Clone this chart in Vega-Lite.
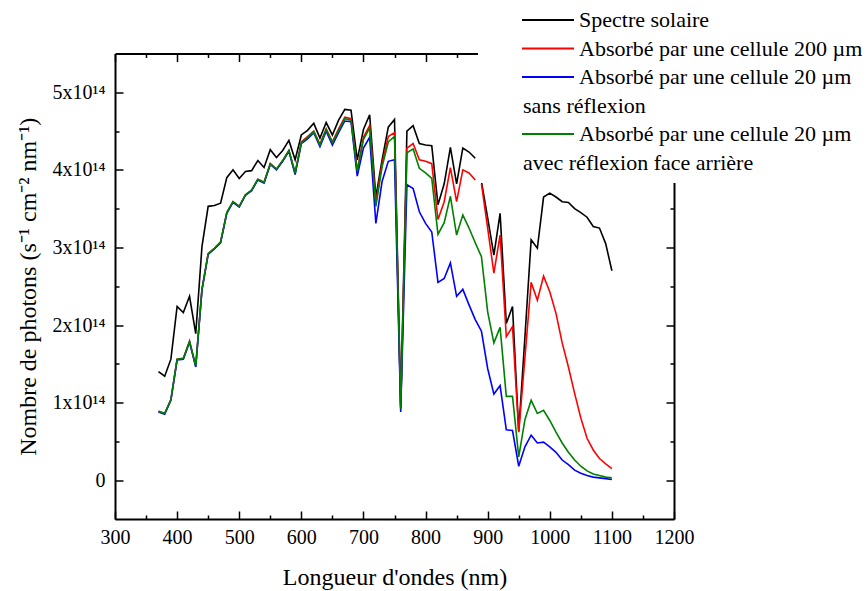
{
  "$schema": "https://vega.github.io/schema/vega-lite/v6.json",
  "autosize": {"type": "none"},
  "padding": {"left": 115, "top": 53.5, "right": 194, "bottom": 72},
  "width": 559,
  "height": 465.5,
  "config": {
    "view": {"stroke": null},
    "axis": {"grid": false, "tickColor": "black", "domainColor": "black", "tickWidth": 1.5, "domainWidth": 2, "labelFont": "Liberation Serif", "labelColor": "black", "titleFont": "Liberation Serif", "titleColor": "black", "titleFontWeight": "normal"}
  },
  "data": {
    "values": [
      {"wl": 370, "sol": 1.40e14, "a200": 0.89e14, "a20": 0.88e14, "a20r": 0.89e14},
      {"wl": 380, "sol": 1.34e14, "a200": 0.86e14, "a20": 0.85e14, "a20r": 0.86e14},
      {"wl": 390, "sol": 1.56e14, "a200": 1.04e14, "a20": 1.03e14, "a20r": 1.04e14},
      {"wl": 400, "sol": 2.24e14, "a200": 1.56e14, "a20": 1.55e14, "a20r": 1.56e14},
      {"wl": 410, "sol": 2.16e14, "a200": 1.57e14, "a20": 1.56e14, "a20r": 1.57e14},
      {"wl": 420, "sol": 2.37e14, "a200": 1.79e14, "a20": 1.78e14, "a20r": 1.79e14},
      {"wl": 430, "sol": 1.89e14, "a200": 1.47e14, "a20": 1.46e14, "a20r": 1.47e14},
      {"wl": 440, "sol": 3.01e14, "a200": 2.46e14, "a20": 2.45e14, "a20r": 2.46e14},
      {"wl": 450, "sol": 3.53e14, "a200": 2.92e14, "a20": 2.91e14, "a20r": 2.92e14},
      {"wl": 460, "sol": 3.54e14, "a200": 2.99e14, "a20": 2.98e14, "a20r": 2.99e14},
      {"wl": 470, "sol": 3.57e14, "a200": 3.07e14, "a20": 3.06e14, "a20r": 3.07e14},
      {"wl": 480, "sol": 3.90e14, "a200": 3.45e14, "a20": 3.44e14, "a20r": 3.45e14},
      {"wl": 490, "sol": 4.00e14, "a200": 3.59e14, "a20": 3.58e14, "a20r": 3.59e14},
      {"wl": 500, "sol": 3.89e14, "a200": 3.53e14, "a20": 3.52e14, "a20r": 3.53e14},
      {"wl": 510, "sol": 3.98e14, "a200": 3.68e14, "a20": 3.67e14, "a20r": 3.68e14},
      {"wl": 520, "sol": 3.99e14, "a200": 3.74e14, "a20": 3.73e14, "a20r": 3.74e14},
      {"wl": 530, "sol": 4.12e14, "a200": 3.88e14, "a20": 3.87e14, "a20r": 3.88e14},
      {"wl": 540, "sol": 4.03e14, "a200": 3.84e14, "a20": 3.83e14, "a20r": 3.84e14},
      {"wl": 550, "sol": 4.26e14, "a200": 4.08e14, "a20": 4.07e14, "a20r": 4.08e14},
      {"wl": 560, "sol": 4.16e14, "a200": 4.01e14, "a20": 4.00e14, "a20r": 4.01e14},
      {"wl": 570, "sol": 4.25e14, "a200": 4.12e14, "a20": 4.11e14, "a20r": 4.12e14},
      {"wl": 580, "sol": 4.38e14, "a200": 4.25e14, "a20": 4.24e14, "a20r": 4.25e14},
      {"wl": 590, "sol": 4.13e14, "a200": 3.96e14, "a20": 3.94e14, "a20r": 3.96e14},
      {"wl": 600, "sol": 4.45e14, "a200": 4.36e14, "a20": 4.34e14, "a20r": 4.35e14},
      {"wl": 610, "sol": 4.51e14, "a200": 4.43e14, "a20": 4.40e14, "a20r": 4.42e14},
      {"wl": 620, "sol": 4.60e14, "a200": 4.50e14, "a20": 4.48e14, "a20r": 4.49e14},
      {"wl": 630, "sol": 4.41e14, "a200": 4.33e14, "a20": 4.30e14, "a20r": 4.32e14},
      {"wl": 640, "sol": 4.61e14, "a200": 4.53e14, "a20": 4.50e14, "a20r": 4.52e14},
      {"wl": 650, "sol": 4.45e14, "a200": 4.36e14, "a20": 4.32e14, "a20r": 4.35e14},
      {"wl": 660, "sol": 4.64e14, "a200": 4.53e14, "a20": 4.48e14, "a20r": 4.51e14},
      {"wl": 670, "sol": 4.78e14, "a200": 4.68e14, "a20": 4.63e14, "a20r": 4.66e14},
      {"wl": 680, "sol": 4.77e14, "a200": 4.66e14, "a20": 4.62e14, "a20r": 4.64e14},
      {"wl": 690, "sol": 4.13e14, "a200": 3.99e14, "a20": 3.92e14, "a20r": 3.98e14},
      {"wl": 700, "sol": 4.52e14, "a200": 4.42e14, "a20": 4.28e14, "a20r": 4.39e14},
      {"wl": 710, "sol": 4.71e14, "a200": 4.57e14, "a20": 4.42e14, "a20r": 4.54e14},
      {"wl": 720, "sol": 3.65e14, "a200": 3.58e14, "a20": 3.31e14, "a20r": 3.53e14},
      {"wl": 730, "sol": 4.13e14, "a200": 4.08e14, "a20": 3.85e14, "a20r": 4.04e14},
      {"wl": 740, "sol": 4.55e14, "a200": 4.43e14, "a20": 4.11e14, "a20r": 4.36e14},
      {"wl": 750, "sol": 4.65e14, "a200": 4.48e14, "a20": 4.13e14, "a20r": 4.43e14},
      {"wl": 760, "sol": 0.95e14, "a200": 0.93e14, "a20": 0.88e14, "a20r": 0.92e14},
      {"wl": 770, "sol": 4.50e14, "a200": 4.28e14, "a20": 3.81e14, "a20r": 4.22e14},
      {"wl": 780, "sol": 4.57e14, "a200": 4.34e14, "a20": 3.76e14, "a20r": 4.27e14},
      {"wl": 790, "sol": 4.34e14, "a200": 4.13e14, "a20": 3.46e14, "a20r": 4.02e14},
      {"wl": 800, "sol": 4.32e14, "a200": 4.11e14, "a20": 3.31e14, "a20r": 3.96e14},
      {"wl": 810, "sol": 4.31e14, "a200": 4.08e14, "a20": 3.20e14, "a20r": 3.89e14},
      {"wl": 820, "sol": 3.55e14, "a200": 3.36e14, "a20": 2.55e14, "a20r": 3.17e14},
      {"wl": 830, "sol": 3.82e14, "a200": 3.59e14, "a20": 2.60e14, "a20r": 3.32e14},
      {"wl": 840, "sol": 4.29e14, "a200": 4.03e14, "a20": 2.80e14, "a20r": 3.66e14},
      {"wl": 850, "sol": 3.82e14, "a200": 3.59e14, "a20": 2.37e14, "a20r": 3.16e14},
      {"wl": 860, "sol": 4.28e14, "a200": 4.00e14, "a20": 2.46e14, "a20r": 3.42e14},
      {"wl": 870, "sol": 4.23e14, "a200": 3.96e14, "a20": 2.26e14, "a20r": 3.25e14},
      {"wl": 880, "sol": 4.15e14, "a200": 3.87e14, "a20": 2.07e14, "a20r": 3.06e14},
      {"wl": 885, "sol": null, "a200": null},
      {"wl": 890, "sol": 3.85e14, "a200": 3.82e14, "a20": 1.92e14, "a20r": 2.88e14},
      {"wl": 900, "sol": 3.38e14, "a200": 3.25e14, "a20": 1.44e14, "a20r": 2.17e14},
      {"wl": 910, "sol": 2.90e14, "a200": 2.67e14, "a20": 1.11e14, "a20r": 1.77e14},
      {"wl": 920, "sol": 3.44e14, "a200": 3.16e14, "a20": 1.22e14, "a20r": 1.97e14},
      {"wl": 930, "sol": 2.02e14, "a200": 1.85e14, "a20": 0.65e14, "a20r": 1.08e14},
      {"wl": 940, "sol": 2.24e14, "a200": 1.98e14, "a20": 0.64e14, "a20r": 1.08e14},
      {"wl": 950, "sol": 0.63e14, "a200": 0.62e14, "a20": 0.18e14, "a20r": 0.30e14},
      {"wl": 960, "sol": 1.85e14, "a200": 1.58e14, "a20": 0.43e14, "a20r": 0.78e14},
      {"wl": 970, "sol": 3.10e14, "a200": 2.55e14, "a20": 0.58e14, "a20r": 1.03e14},
      {"wl": 980, "sol": 2.99e14, "a200": 2.32e14, "a20": 0.48e14, "a20r": 0.86e14},
      {"wl": 990, "sol": 3.65e14, "a200": 2.63e14, "a20": 0.49e14, "a20r": 0.90e14},
      {"wl": 1000, "sol": 3.70e14, "a200": 2.43e14, "a20": 0.43e14, "a20r": 0.77e14},
      {"wl": 1010, "sol": 3.65e14, "a200": 2.15e14, "a20": 0.36e14, "a20r": 0.62e14},
      {"wl": 1020, "sol": 3.59e14, "a200": 1.77e14, "a20": 0.26e14, "a20r": 0.48e14},
      {"wl": 1030, "sol": 3.58e14, "a200": 1.46e14, "a20": 0.20e14, "a20r": 0.36e14},
      {"wl": 1040, "sol": 3.50e14, "a200": 1.12e14, "a20": 0.13e14, "a20r": 0.26e14},
      {"wl": 1050, "sol": 3.45e14, "a200": 0.80e14, "a20": 0.09e14, "a20r": 0.18e14},
      {"wl": 1060, "sol": 3.39e14, "a200": 0.54e14, "a20": 0.06e14, "a20r": 0.12e14},
      {"wl": 1070, "sol": 3.27e14, "a200": 0.39e14, "a20": 0.04e14, "a20r": 0.08e14},
      {"wl": 1080, "sol": 3.25e14, "a200": 0.28e14, "a20": 0.03e14, "a20r": 0.06e14},
      {"wl": 1090, "sol": 3.05e14, "a200": 0.21e14, "a20": 0.02e14, "a20r": 0.04e14},
      {"wl": 1100, "sol": 2.70e14, "a200": 0.15e14, "a20": 0.01e14, "a20r": 0.03e14}
    ]
  },
  "resolve": {"axis": {"x": "independent", "y": "independent"}},
  "layer": [
    {
      "mark": {"type": "line", "strokeWidth": 1.6},
      "encoding": {
        "x": {"field": "wl", "type": "quantitative", "scale": {"domain": [300, 1200], "nice": false, "zero": false},
          "axis": {"orient": "bottom", "values": [300, 400, 500, 600, 700, 800, 900, 1000, 1100, 1200], "tickSize": -8, "labelFontSize": 20, "labelPadding": 16, "labelFlush": false, "labelOverlap": false, "format": "d", "title": "Longueur d'ondes (nm)", "titleFontSize": 24, "titlePadding": 18}},
        "y": {"field": "sol", "type": "quantitative", "scale": {"domain": [-0.5e14, 5.5e14], "nice": false, "zero": false},
          "axis": {"orient": "left", "values": [0, 1e14, 2e14, 3e14, 4e14, 5e14], "tickSize": -8, "labelFontSize": 20, "labelPadding": 18, "labelOverlap": false, "labelFlush": false, "labelExpr": "datum.value == 0 ? '0' : format(datum.value / 1e14, 'd') + 'x10\u00b9\u2074'", "title": "Nombre de photons (s\u207b\u00b9 cm\u207b\u00b2 nm\u207b\u00b9)", "titleFontSize": 24, "titlePadding": 12}},
        "color": {"datum": "Spectre solaire",
          "scale": {"domain": ["Spectre solaire", "Absorbé par une cellule 200 µm", "Absorbé par une cellule 20 µm sans réflexion", "sans réflexion", "Absorbé par une cellule 20 µm avec réflexion face arrière", "avec réflexion face arrière"],
            "range": ["#000000", "#ff0000", "#0000ff", "transparent", "#008000", "transparent"]},
          "legend": {"orient": "none", "legendX": 363, "legendY": -53.5, "title": null, "fillColor": "white", "padding": 8,
            "symbolType": "stroke", "symbolSize": 2704, "symbolStrokeWidth": 2, "symbolOffset": 35, "clipHeight": 24,
            "labelFont": "Liberation Serif", "labelFontSize": 22, "labelColor": "black", "labelLimit": 400, "rowPadding": 4.5,
            "labelOffset": {"expr": "(datum.value === 'sans réflexion' || datum.value === 'avec réflexion face arrière') ? -52 : 4"},
            "labelExpr": "indexof(datum.label, '20 µm ') >= 0 ? 'Absorbé par une cellule 20 µm' : datum.label"}}
      }
    },
    {
      "mark": {"type": "line", "strokeWidth": 1.6},
      "encoding": {
        "x": {"field": "wl", "type": "quantitative",
          "axis": {"orient": "top", "values": [300, 400, 500, 600, 700, 800, 900, 1000, 1100, 1200], "tickSize": -8, "labels": false, "title": null}},
        "y": {"field": "a200", "type": "quantitative",
          "axis": {"orient": "right", "values": [0, 1e14, 2e14, 3e14, 4e14, 5e14], "tickSize": -8, "labels": false, "title": null}},
        "color": {"datum": "Absorbé par une cellule 200 µm"}
      }
    },
    {
      "transform": [{"filter": "isValid(datum.a20)"}],
      "mark": {"type": "line", "strokeWidth": 1.6},
      "encoding": {
        "x": {"field": "wl", "type": "quantitative",
          "axis": {"orient": "bottom", "values": [350, 450, 550, 650, 750, 850, 950, 1050, 1150], "tickSize": -4, "labels": false, "domain": false, "title": null}},
        "y": {"field": "a20", "type": "quantitative",
          "axis": {"orient": "left", "values": [0.5e14, 1.5e14, 2.5e14, 3.5e14, 4.5e14], "tickSize": -4, "labels": false, "domain": false, "title": null}},
        "color": {"datum": "Absorbé par une cellule 20 µm sans réflexion"}
      }
    },
    {
      "transform": [{"filter": "isValid(datum.a20r)"}],
      "mark": {"type": "line", "strokeWidth": 1.6},
      "encoding": {
        "x": {"field": "wl", "type": "quantitative",
          "axis": {"orient": "top", "values": [350, 450, 550, 650, 750, 850, 950, 1050, 1150], "tickSize": -4, "labels": false, "domain": false, "title": null}},
        "y": {"field": "a20r", "type": "quantitative",
          "axis": {"orient": "right", "values": [0.5e14, 1.5e14, 2.5e14, 3.5e14, 4.5e14], "tickSize": -4, "labels": false, "domain": false, "title": null}},
        "color": {"datum": "Absorbé par une cellule 20 µm avec réflexion face arrière"}
      }
    }
  ]
}
